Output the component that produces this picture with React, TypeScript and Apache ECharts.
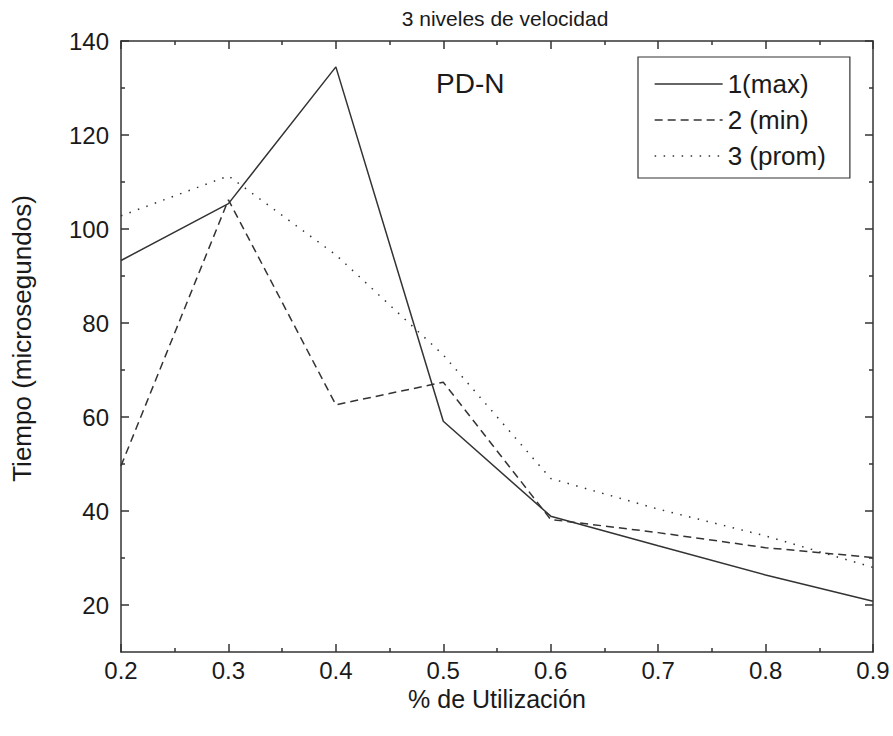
import React, { useEffect, useRef } from "react";
import * as echarts from "echarts";

const xValues = [0.2, 0.3, 0.4, 0.5, 0.6, 0.7, 0.8, 0.9];
const seriesMax = [93.3, 105.4, 134.5, 59.1, 38.9, 32.6, 26.4, 20.8];
const seriesMin = [49.6, 106.2, 62.6, 67.4, 38.2, 35.4, 32.2, 30.1];
const seriesProm = [102.8, 111.3, 94.5, 73.2, 46.9, 40.4, 34.7, 28.0];
const seriesNames = ["1(max)", "2 (min)", "3 (prom)"];
const yMajorTicks = [20, 40, 60, 80, 100, 120, 140];
const yMinorTicks = [30, 50, 70, 90, 110, 130];

const INK = "#333";
const TEXT = "#1a1a1a";
const FONT = "'Liberation Sans', Arial, sans-serif";

export default function App() {
  const ref = useRef<HTMLDivElement>(null);
  useEffect(() => {
    if (!ref.current) return;
    const chart = echarts.init(ref.current, undefined, { renderer: "svg" });
    const pairs = (ys: number[]) => xValues.map((x, i) => [x, ys[i]]);
    const baseX = (pos: "top" | "bottom", labels: boolean) => ({
      type: "value",
      position: pos,
      min: 0.2,
      max: 0.9,
      interval: 0.1,
      axisLine: { show: true, onZero: false, lineStyle: { color: INK, width: 1.5 } },
      axisTick: { show: true, inside: true, length: 8, lineStyle: { color: INK, width: 1.5 } },
      minorTick: { show: true, splitNumber: 2, length: 4, lineStyle: { color: INK, width: 1.5 } },
      splitLine: { show: false },
      minorSplitLine: { show: false },
      axisLabel: {
        show: labels,
        formatter: (v: number) => v.toFixed(1),
        fontSize: 24,
        color: TEXT,
        fontFamily: FONT,
        margin: 6,
      },
      ...(labels
        ? {
            name: "% de Utilización",
            nameLocation: "middle",
            nameGap: 23,
            nameTextStyle: { fontSize: 25, color: TEXT, fontFamily: FONT, verticalAlign: "top" },
          }
        : {}),
    });
    const baseY = (pos: "left" | "right", major: boolean, labels: boolean) => ({
      type: "value",
      position: pos,
      min: 10,
      max: 140,
      axisLine: { show: major, onZero: false, lineStyle: { color: INK, width: 1.5 } },
      axisTick: {
        show: true,
        inside: true,
        length: major ? 8 : 4,
        customValues: major ? yMajorTicks : yMinorTicks,
        lineStyle: { color: INK, width: 1.5 },
      },
      splitLine: { show: false },
      axisLabel: {
        show: labels,
        customValues: yMajorTicks,
        fontSize: 24,
        color: TEXT,
        fontFamily: FONT,
        margin: 12,
      },
      ...(labels
        ? {
            name: "Tiempo (microsegundos)",
            nameLocation: "middle",
            nameGap: 86,
            nameTextStyle: { fontSize: 26, color: TEXT, fontFamily: FONT, padding: [0, 0, 0, 16] },
          }
        : {}),
    });
    const lineSeries = (name: string, ys: number[], type: any) => ({
      name,
      type: "line",
      data: pairs(ys),
      xAxisIndex: 0,
      yAxisIndex: 0,
      symbol: "none",
      showSymbol: false,
      lineStyle: { color: INK, width: 1.5, type },
      itemStyle: { color: INK },
    });
    chart.setOption({
      animation: false,
      backgroundColor: "#fff",
      title: {
        text: "3 niveles de velocidad",
        left: 500,
        top: 3,
        textAlign: "center",
        textStyle: { fontSize: 21, fontWeight: "normal", color: TEXT, fontFamily: FONT },
      },
      grid: { left: 121, right: 20, top: 41, bottom: 84 },
      xAxis: [baseX("bottom", true), baseX("top", false)],
      yAxis: [
        baseY("left", true, true),
        baseY("left", false, false),
        baseY("right", true, false),
        baseY("right", false, false),
      ],
      legend: {
        show: true,
        orient: "vertical",
        left: 638,
        top: 57,
        padding: [14, 24, 9, 16],
        itemGap: 10,
        itemWidth: 68,
        itemHeight: 26,
        borderColor: INK,
        borderWidth: 1.2,
        backgroundColor: "#fff",
        data: seriesNames,
        itemStyle: { opacity: 0 },
        lineStyle: { width: 1.3 },
        textStyle: { fontSize: 26, color: TEXT, fontFamily: FONT },
      },
      graphic: [
        {
          type: "text",
          left: 436,
          top: 69,
          style: { text: "PD-N", fontSize: 28, fill: TEXT, fontFamily: FONT },
        },
      ],
      series: [
        lineSeries(seriesNames[0], seriesMax, "solid"),
        lineSeries(seriesNames[1], seriesMin, [8, 5]),
        lineSeries(seriesNames[2], seriesProm, [1.5, 7.5]),
      ],
    });
    return () => chart.dispose();
  }, []);
  return <div ref={ref} style={{ width: 893, height: 736, position: "absolute", left: 0, top: 0 }} />;
}
